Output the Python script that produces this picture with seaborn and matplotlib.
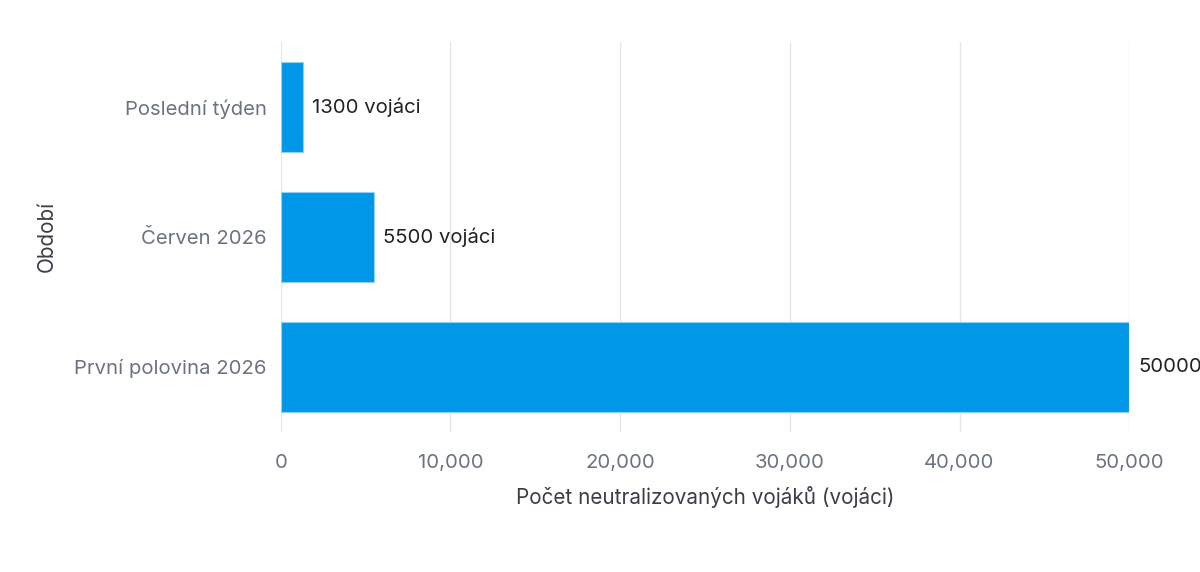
import pandas as pd
import matplotlib.pyplot as plt
import seaborn as sns

# data
periods = ["Poslední týden", "Červen 2026", "První polovina 2026"]
soldiers = [1300, 5500, 50000]
bar_labels = ["1300 vojáci", "5500 vojáci", "50000"]
x_ticks = [0, 10000, 20000, 30000, 40000, 50000]
x_tick_labels = ["0", "10,000", "20,000", "30,000", "40,000", "50,000"]

df = pd.DataFrame({"Období": periods, "Počet": soldiers})

sns.set_theme(style="white")
plt.rcParams['font.family'] = ['Inter', 'DejaVu Sans']

fig = plt.figure(figsize=(12, 5.72), dpi=100)
ax = fig.add_axes([0.234, 0.245, 0.707, 0.682])

sns.barplot(data=df, y="Období", x="Počet", order=periods, color="#0097E8",
            width=0.69, saturation=1, edgecolor="#8fd0f5", linewidth=0.8, ax=ax, zorder=3)

for i, (v, lab) in enumerate(zip(soldiers, bar_labels)):
    ax.text(v + 550, i, lab, va="center", ha="left", fontsize=14.6, color="#222222")

ax.set_xlim(0, 50000)
ax.set_xticks(x_ticks)
ax.set_xticklabels(x_tick_labels)
ax.grid(axis="x", color="#e6e6e6", linewidth=1, zorder=0)
ax.set_axisbelow(True)
for s in ax.spines.values():
    s.set_visible(False)
ax.tick_params(axis="both", length=0, labelsize=14.6, labelcolor="#6b7380", pad=10)
ax.tick_params(axis="x", pad=16)

ax.set_xlabel("Počet neutralizovaných vojáků (vojáci)", fontsize=14.9, color="#3a3f47", labelpad=10)
ax.set_ylabel("Období", fontsize=14.9, color="#3a3f47", labelpad=13)

plt.savefig("out.png", dpi=100)
